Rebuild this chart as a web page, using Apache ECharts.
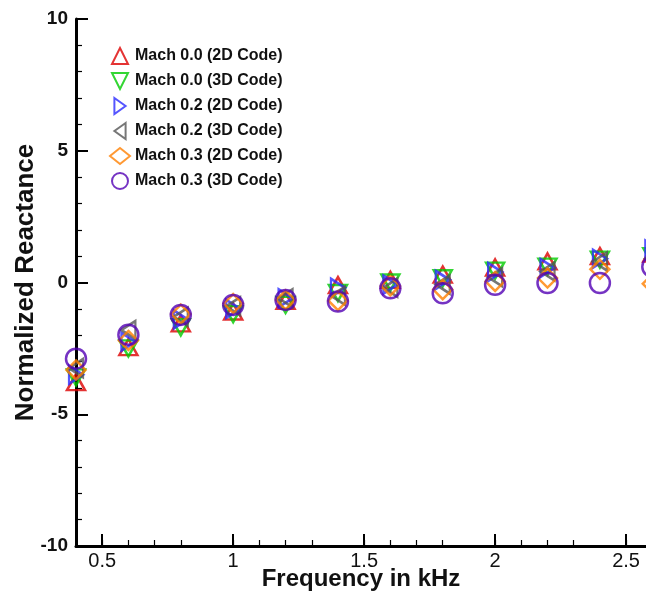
<!DOCTYPE html>
<html>
<head>
<meta charset="utf-8">
<script src="https://cdn.jsdelivr.net/npm/echarts@6/dist/echarts.min.js"></script>
<style>html,body{margin:0;padding:0;background:#fff}#c{width:646px;height:593px}</style>
</head>
<body>
<div id="c"></div>
<script>
var freq = [0.4, 0.6, 0.8, 1.0, 1.2, 1.4, 1.6, 1.8, 2.0, 2.2, 2.4, 2.6];
var mach00_2D = [-3.78, -2.45, -1.55, -1.10, -0.70, -0.10, 0.10, 0.30, 0.57, 0.80, 1.00, 1.10];
var mach00_3D = [-3.60, -2.50, -1.70, -1.20, -0.85, -0.40, 0.00, 0.16, 0.45, 0.60, 0.87, 1.00];
var mach02_2D = [-3.50, -2.25, -1.40, -1.00, -0.60, -0.20, -0.08, 0.10, 0.40, 0.55, 0.90, 1.25];
var mach02_3D = [-3.25, -1.80, -1.30, -0.90, -0.60, -0.50, -0.20, -0.08, 0.20, 0.42, 0.80, 0.90];
var mach03_2D = [-3.32, -2.20, -1.20, -0.80, -0.66, -0.69, -0.13, -0.27, 0.04, 0.17, 0.50, -0.05];
var mach03_3D = [-2.89, -1.98, -1.23, -0.85, -0.66, -0.72, -0.22, -0.41, -0.09, -0.02, -0.02, 0.60];
var seriesNames = ['Mach 0.0 (2D Code)', 'Mach 0.0 (3D Code)', 'Mach 0.2 (2D Code)', 'Mach 0.2 (3D Code)', 'Mach 0.3 (2D Code)', 'Mach 0.3 (3D Code)'];
var xMajorTicks = [0.5, 1, 1.5, 2, 2.5];
var xMin = 0.4, xMax = 2.576;
var yTicks = [-10, -5, 0, 5, 10];

var seriesValues = [mach00_2D, mach00_3D, mach02_2D, mach02_3D, mach03_2D, mach03_3D];
var colors = ['#dd0000', '#00cc00', '#2a2aff', '#555555', '#ff8000', '#5200b4'];
var symbols = [
  'path://M0,0L1,2L-1,2Z',
  'path://M-1,0L1,0L0,2Z',
  'path://M0,0L1.4,1L0,2Z',
  'path://M1.4,0L0,1L1.4,2Z',
  'diamond',
  'circle'
];
var sizes = [[18, 16], [18, 16], [14, 18], [14, 18], 19, 20];

function pairs(ys) { return freq.map(function (f, i) { return [f, ys[i]]; }); }

var series = seriesValues.map(function (ys, i) {
  return {
    name: seriesNames[i],
    type: 'scatter',
    data: pairs(ys),
    symbol: symbols[i],
    symbolSize: sizes[i],
    symbolKeepAspect: false,
    clip: false,
    itemStyle: { color: 'rgba(0,0,0,0)', borderColor: colors[i], borderWidth: 2.5 },
    emphasis: { disabled: true }
  };
});

var chart = echarts.init(document.getElementById('c'), null, { renderer: 'canvas' });
chart.setOption({
  animation: false,
  backgroundColor: '#fff',
  textStyle: { fontFamily: 'Liberation Sans' },
  grid: { left: 76, right: 0, top: 19, bottom: 47, containLabel: false, outerBoundsMode: 'none' },
  legend: {
    orient: 'vertical', left: 104, top: 42,
    itemWidth: 20, itemHeight: 16, itemGap: 7,
    data: seriesNames,
    textStyle: { fontSize: 16, fontWeight: 'bold', color: '#111', fontFamily: 'Liberation Sans' }
  },
  xAxis: {
    type: 'value', min: xMin, max: xMax, interval: 0.5, position: 'bottom',
    name: 'Frequency in kHz', nameLocation: 'middle', nameGap: 21, nameMoveOverlap: false,
    nameTextStyle: { fontSize: 24, fontWeight: 'bold', color: '#111' },
    axisLine: { show: true, onZero: false, lineStyle: { color: '#000', width: 3 } },
    axisTick: { show: true, inside: true, length: 12, customValues: xMajorTicks, lineStyle: { color: '#000', width: 2 } },
    minorTick: { show: true, splitNumber: 5, length: 6, lineStyle: { color: '#000', width: 1.2 } },
    axisLabel: { show: true, customValues: xMajorTicks, fontSize: 20, color: '#111', margin: 5 },
    splitLine: { show: false }
  },
  yAxis: {
    type: 'value', min: -10, max: 10, interval: 5,
    name: 'Normalized Reactance', nameLocation: 'middle', nameGap: 37, nameRotate: 90, nameMoveOverlap: false,
    nameTextStyle: { fontSize: 26, fontWeight: 'bold', color: '#111' },
    axisLine: { show: true, onZero: false, lineStyle: { color: '#000', width: 3 } },
    axisTick: { show: true, inside: true, length: 12, lineStyle: { color: '#000', width: 2 } },
    minorTick: { show: true, splitNumber: 5, length: 6, lineStyle: { color: '#000', width: 1.2 } },
    axisLabel: { fontSize: 19, fontWeight: 'bold', color: '#111', margin: 8,
      formatter: function (v) { return yTicks.indexOf(v) >= 0 ? String(v) : ''; } },
    splitLine: { show: false }
  },
  series: series
});
</script>
</body>
</html>
